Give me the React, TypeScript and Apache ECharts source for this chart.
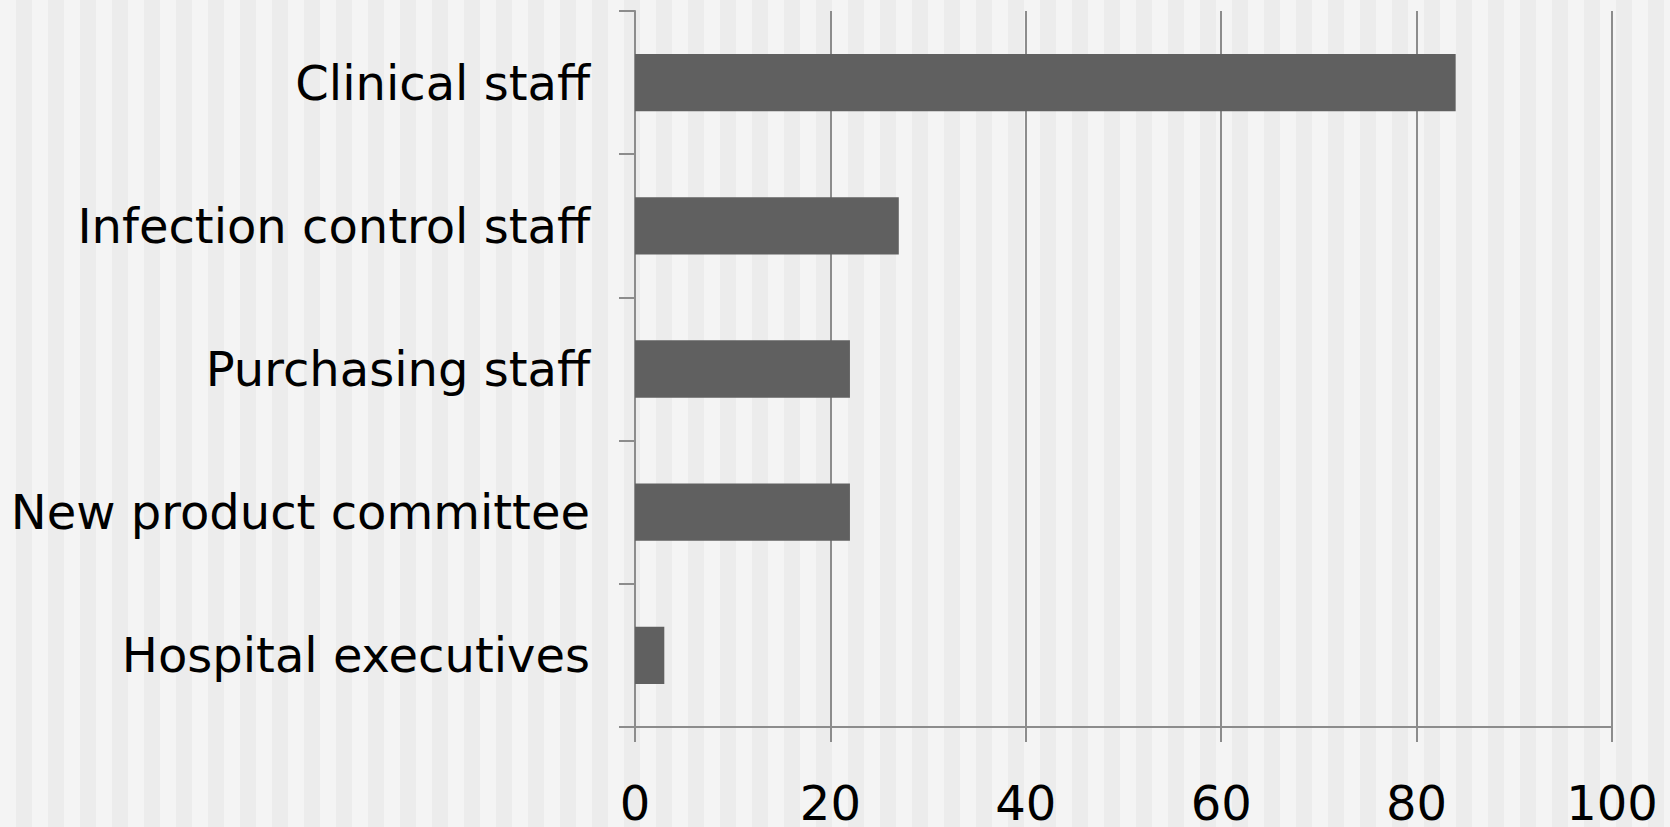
import React, { useEffect, useRef } from "react";
import * as echarts from "echarts";

const categories = [
  "Clinical staff",
  "Infection control staff",
  "Purchasing staff",
  "New product committee",
  "Hospital executives",
];
const values = [84, 27, 22, 22, 3];
const xTicks = { min: 0, max: 100, interval: 20 };

const axisGray = "#8c8c8c";

export default function App() {
  const ref = useRef<HTMLDivElement>(null);
  useEffect(() => {
    if (!ref.current) return;
    const chart = echarts.init(ref.current, undefined, { renderer: "svg" });
    chart.setOption({
      animation: false,
      backgroundColor: "transparent",
      grid: { left: 635, right: 58, top: 11, bottom: 99, containLabel: false },
      xAxis: {
        type: "value",
        min: xTicks.min,
        max: xTicks.max,
        interval: xTicks.interval,
        axisLine: { show: true, lineStyle: { color: axisGray, width: 2 } },
        axisTick: { show: true, length: 15, lineStyle: { color: axisGray, width: 2 } },
        splitLine: { show: true, lineStyle: { color: axisGray, width: 2 } },
        axisLabel: {
          color: "#000",
          fontSize: 48,
          lineHeight: 40,
          fontFamily: "DejaVu Sans",
          margin: 56,
        },
      },
      yAxis: {
        type: "category",
        data: categories,
        inverse: true,
        axisLine: { show: true, lineStyle: { color: axisGray, width: 2 } },
        axisTick: { show: true, length: 16, lineStyle: { color: axisGray, width: 2 } },
        splitLine: { show: false },
        axisLabel: {
          color: "#000",
          fontSize: 48,
          fontFamily: "DejaVu Sans",
          margin: 45,
        },
      },
      series: [
        {
          type: "bar",
          data: values,
          barCategoryGap: "60%",
          itemStyle: { color: "#606060" },
        },
      ],
    });
    return () => chart.dispose();
  }, []);
  return (
    <div
      style={{
        position: "fixed",
        left: 0,
        top: 0,
        width: 1670,
        height: 827,
        background:
          "repeating-linear-gradient(90deg, #f4f4f4 0px, #f4f4f4 16px, #ececec 16px, #ececec 32px)",
      }}
    >
      <div ref={ref} style={{ width: 1670, height: 827 }} />
    </div>
  );
}
